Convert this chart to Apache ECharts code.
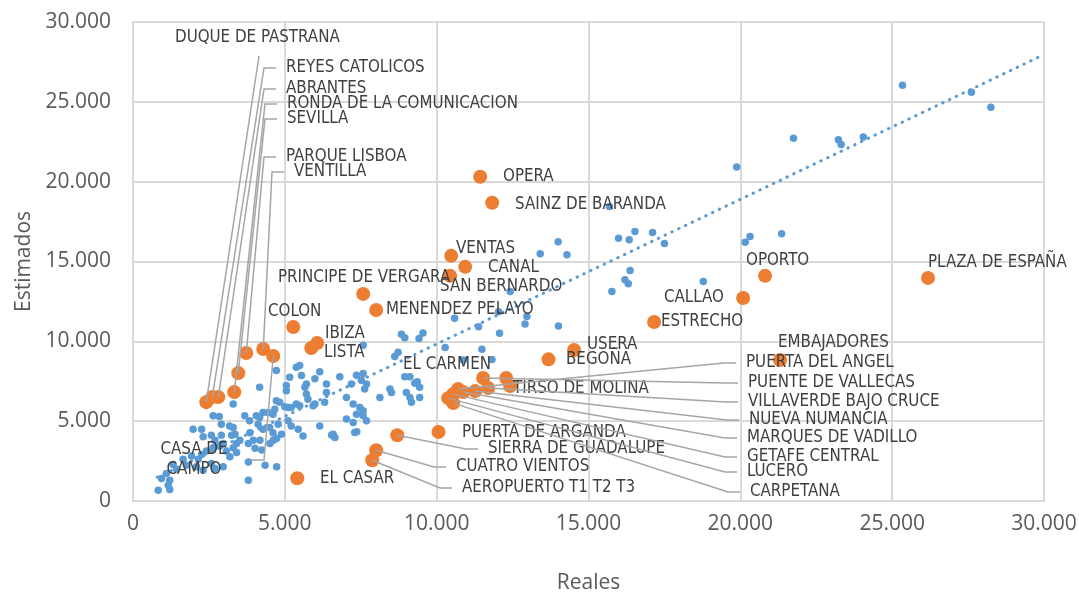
<!DOCTYPE html>
<html lang="es">
<head>
<meta charset="utf-8">
<title>Reales vs Estimados</title>
<script src="https://cdn.jsdelivr.net/npm/echarts@6.0.0/dist/echarts.min.js"></script>
<style>
  html, body { margin: 0; padding: 0; background: #fff; }
  #main { width: 1079px; height: 595px; }
</style>
</head>
<body>
<div id="main"></div>
<script>
// estaciones sin etiqueta: [reales], [estimados]
var realX = [8840, 8950, 9420, 9550, 8730, 8620, 7580, 9120, 8950, 9280, 9440, 9360, 8460, 8510, 9000, 9120, 9170, 9440, 8130,
  7580, 7360, 7520, 7630, 7690, 7190, 7030, 7250, 7470, 7580, 6810, 6370, 6370, 6310, 5990, 6150, 5990, 5710, 5660, 5710, 5760,
  5930, 5490, 5380, 5550, 5160, 5050, 5050, 4720, 4170, 5380, 5210, 5490, 5110, 5000, 4830, 4720, 4670, 4610, 4450, 4280, 4170,
  4060, 3840, 3680, 3300, 2640, 2840, 2910, 3180, 3300, 4120, 4280, 4500, 4610, 4780, 4890, 5110, 5210, 5440, 5600, 6150, 6590,
  6650, 7030, 7250, 7300, 7690, 7580, 7360, 1980, 2260, 2310, 2580, 2700, 2910, 2970, 3250, 3360, 3410, 3520, 3850, 3800, 3960,
  4020, 4180, 4240, 4510, 4620, 4730, 1650, 1930, 2150, 2260, 2420, 2640, 2860, 3080, 3300, 3410, 3190, 1320, 1430, 1760, 2090,
  2310, 2580, 2700, 2970, 1100, 1210, 940, 1160, 1210, 830, 3800, 4350, 4730, 3800, 6540, 7370,
  13410, 14290, 16370, 16200, 16310, 15770, 18780, 12420, 12970, 12910, 12040, 11380, 12070, 10590, 14010, 10280, 11490, 10880, 11820,
  25340, 27610, 28250, 21750, 23230, 23320, 24050, 19880, 15690, 16530, 17110, 15990, 16340, 17500, 14000, 20160, 20320, 21360];
var estY = [10440, 10230, 10170, 10520, 9320, 9050, 9750, 7780, 7780, 7370, 7120, 7470, 7010, 6800, 6800, 6490, 6180, 6490, 6490,
  7990, 7880, 7570, 7010, 7330, 7330, 6490, 6070, 5860, 5650, 7780, 7330, 6800, 6180, 6070, 8090, 7650, 7330, 7120, 6700, 6380,
  5970, 8490, 8380, 7860, 7750, 7230, 6910, 8170, 7120, 6070, 5860, 5970, 5860, 5900, 6180, 6280, 5750, 5440, 5540, 5540, 5230,
  5340, 5020, 5340, 6070, 5340, 5290, 4810, 4700, 4600, 4810, 4490, 4600, 4280, 4810, 4180, 5020, 4700, 4490, 4070, 4700, 4180,
  3970, 5130, 4910, 4290, 5020, 5340, 5440, 4490, 4490, 4020, 4120, 3810, 4120, 3600, 4120, 4180, 3600, 3810, 4280, 3600, 3810,
  3300, 3810, 3190, 3600, 3810, 3920, 2610, 2820, 2610, 2920, 3130, 3340, 3440, 3130, 3340, 3030, 2770, 2290, 2000, 2240, 2140,
  1930, 2350, 2030, 2140, 1720, 1300, 1410, 990, 720, 680, 2450, 2240, 2140, 1300, 4130, 4330,
  15480, 15420, 14430, 13850, 13600, 13120, 13740, 13120, 11550, 11090, 11860, 10920, 10500, 11440, 10960, 9620, 9500, 8830, 8870,
  26040, 25600, 24660, 22720, 22630, 22320, 22800, 20920, 18450, 16880, 16820, 16460, 16360, 16130, 16230, 16210, 16570, 16740];

// estaciones destacadas
var stations = ['OPERA', 'SAINZ DE BARANDA', 'VENTAS', 'CANAL', 'SAN BERNARDO', 'PRINCIPE DE VERGARA', 'MENENDEZ PELAYO',
  'COLON', 'IBIZA', 'LISTA', 'OPORTO', 'PLAZA DE ESPAÑA', 'CALLAO', 'ESTRECHO', 'USERA', 'BEGOÑA', 'EMBAJADORES',
  'PUERTA DE ARGANDA', 'SIERRA DE GUADALUPE', 'CUATRO VIENTOS', 'AEROPUERTO T1 T2 T3', 'EL CASAR',
  'DUQUE DE PASTRANA', 'REYES CATOLICOS', 'ABRANTES', 'RONDA DE LA COMUNICACION', 'SEVILLA', 'PARQUE LISBOA', 'VENTILLA', 'CASA DE CAMPO',
  'PUENTE DE VALLECAS', 'EL CARMEN', 'TIRSO DE MOLINA', 'VILLAVERDE BAJO CRUCE', 'NUEVA NUMANCIA', 'PUERTA DEL ANGEL',
  'MARQUES DE VADILLO', 'GETAFE CENTRAL', 'LUCERO', 'CARPETANA'];
var stReal = [11433, 11828, 10478, 10939, 10445, 7581, 8009, 5277, 6067, 5870, 20814, 26181, 20092, 17161, 14527, 13682, 21309,
  10061, 8701, 8009, 7878, 5409, 2413, 2611, 2808, 3335, 3467, 3730, 4290, 4619,
  11531, 12289, 12421, 11696, 11268, 10708, 10873, 10544, 10380, 10544];
var stEst = [20310, 18678, 15355, 14665, 14100, 12971, 11967, 10900, 9896, 9582, 14100, 13972, 12717, 11211, 9456, 8871, 8828,
  4329, 4122, 3181, 2554, 1425, 6191, 6506, 6506, 6820, 8012, 9267, 9518, 9078,
  7699, 7699, 7197, 7071, 6882, 7009, 6820, 6694, 6443, 6130];

// linea de tendencia (extremos)
var trendX = [800, 30000];
var trendY = [1490, 27960];

// posicion de cada etiqueta: [x, y, guia]  guia: '' ninguna, L izquierda, B abajo, R derecha
var labelSpot = {
  'OPERA': [503, 177, ''], 'SAINZ DE BARANDA': [515, 205, ''], 'VENTAS': [456, 249, ''], 'CANAL': [488, 268, ''],
  'SAN BERNARDO': [440, 287, ''], 'PRINCIPE DE VERGARA': [278, 278, ''], 'MENENDEZ PELAYO': [386, 310, ''],
  'COLON': [268, 312, ''], 'IBIZA': [325, 334, ''], 'LISTA': [324, 353, ''], 'OPORTO': [746, 261, ''],
  'PLAZA DE ESPAÑA': [928, 263, ''], 'CALLAO': [664, 298, ''], 'ESTRECHO': [661, 322, ''], 'USERA': [587, 345, ''],
  'BEGOÑA': [566, 360, ''], 'EMBAJADORES': [778, 343, ''], 'PUERTA DE ARGANDA': [462, 433, ''],
  'SIERRA DE GUADALUPE': [488, 449, 'L'], 'CUATRO VIENTOS': [456, 467, 'L'], 'AEROPUERTO T1 T2 T3': [462, 488, 'L'],
  'EL CASAR': [320, 479, ''], 'DUQUE DE PASTRANA': [175, 38, 'B'], 'REYES CATOLICOS': [286, 68, 'L'],
  'ABRANTES': [286, 89, 'L'], 'RONDA DE LA COMUNICACION': [287, 104, 'L'], 'SEVILLA': [287, 119, 'L'],
  'PARQUE LISBOA': [286, 157, 'L'], 'VENTILLA': [294, 172, 'L'], 'CASA DE CAMPO': [194, 460, 'R'],
  'PUENTE DE VALLECAS': [748, 383, 'L'], 'EL CARMEN': [403, 365, ''], 'TIRSO DE MOLINA': [513, 389, ''],
  'VILLAVERDE BAJO CRUCE': [748, 402, 'L'], 'NUEVA NUMANCIA': [749, 420, 'L'], 'PUERTA DEL ANGEL': [746, 363, 'L'],
  'MARQUES DE VADILLO': [747, 438, 'L'], 'GETAFE CENTRAL': [747, 457, 'L'], 'LUCERO': [747, 472, 'L'], 'CARPETANA': [750, 492, 'L']
};

function fmt(v) {
  return String(v).replace(/\B(?=(\d{3})+(?!\d))/g, '.');
}

var axisFont = 'Open Sans';
var labelFont = "'Liberation Sans Narrow', 'DejaVu Sans Condensed', sans-serif";

var blueData = realX.map(function (x, i) { return [x, estY[i]]; });
var orangeData = stations.map(function (n, i) { return { name: n, value: [stReal[i], stEst[i]] }; });
var leaderData = orangeData.filter(function (d) { return labelSpot[d.name][2]; });

// punto final de la guia, junto a la etiqueta
function leaderEnd(name) {
  var s = labelSpot[name];
  if (s[2] === 'B') return [[s[0] + 84, s[1] + 18], [s[0] + 84, s[1] + 18]];
  if (s[2] === 'R') return [[s[0] + 70, s[1]], [s[0] + 57, s[1]]];
  return [[s[0] - 22, s[1]], [s[0] - 10, s[1]]];
}

var chart = echarts.init(document.getElementById('main'));
chart.setOption({
  animation: false,
  grid: { left: 133, right: 35, top: 22, bottom: 94, containLabel: false, outerBoundsMode: 'none' },
  xAxis: {
    type: 'value', min: 0, max: 30000, interval: 5000,
    name: 'Reales', nameLocation: 'middle', nameGap: 72,
    nameTextStyle: { fontFamily: axisFont, fontSize: 21, color: '#595959' },
    axisLine: { show: true, lineStyle: { color: '#d9d9d9', width: 2 } },
    axisTick: { show: false },
    axisLabel: { fontFamily: axisFont, fontSize: 21, color: '#595959', margin: 13, formatter: fmt },
    splitLine: { show: true, lineStyle: { color: '#d9d9d9', width: 2 } }
  },
  yAxis: {
    type: 'value', min: 0, max: 30000, interval: 5000,
    name: 'Estimados', nameLocation: 'middle', nameGap: 98,
    nameTextStyle: { fontFamily: axisFont, fontSize: 21, color: '#595959' },
    axisLine: { show: true, lineStyle: { color: '#d9d9d9', width: 2 } },
    axisTick: { show: false },
    axisLabel: { fontFamily: axisFont, fontSize: 21, color: '#595959', margin: 22, formatter: fmt },
    splitLine: { show: true, lineStyle: { color: '#d9d9d9', width: 2 } }
  },
  series: [
    {
      type: 'scatter', data: blueData, symbolSize: 7.5, z: 2,
      itemStyle: { color: '#5b9bd5', opacity: 1 }
    },
    {
      type: 'line', data: trendX.map(function (x, i) { return [x, trendY[i]]; }),
      showSymbol: false, symbol: 'none', z: 3,
      lineStyle: { color: '#5b9bd5', width: 3, type: [0.5, 7], cap: 'round' }
    },
    {
      type: 'scatter', data: orangeData, symbolSize: 14, z: 4,
      itemStyle: { color: '#ed7d31', opacity: 1 },
      label: {
        show: true, color: '#404040', fontFamily: labelFont, fontSize: 16.8, lineHeight: 20,
        formatter: function (p) { return p.name === 'CASA DE CAMPO' ? 'CASA DE\nCAMPO' : p.name; }
      },
      labelLayout: function (p) {
        var s = labelSpot[stations[p.dataIndex]];
        return { x: s[0], y: s[1], align: s[2] === 'R' ? 'center' : 'left', verticalAlign: 'middle' };
      }
    },
    {
      type: 'custom', data: leaderData, z: 5, silent: true,
      renderItem: function (params, api) {
        var p = api.coord([api.value(0), api.value(1)]);
        var path = leaderEnd(leaderData[params.dataIndex].name);
        return {
          type: 'polyline',
          shape: { points: [p, path[0], path[1]] },
          style: { stroke: '#a5a5a5', lineWidth: 1.5, fill: null }
        };
      }
    }
  ]
});
</script>
</body>
</html>
